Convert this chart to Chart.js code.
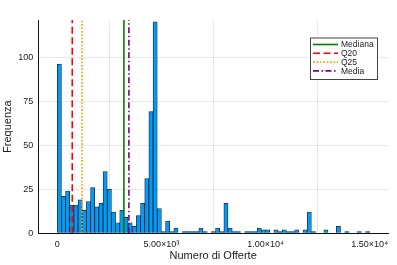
<!DOCTYPE html>
<html lang="it">
<head>
<meta charset="utf-8">
<title>Numero di Offerte</title>
<script src="https://cdn.jsdelivr.net/npm/chart.js@4.4.1/dist/chart.umd.min.js"></script>
<style>
  html, body { margin: 0; padding: 0; background: #fff; }
</style>
</head>
<body>
<canvas id="istogramma" width="397" height="265"></canvas>
<script>
// dati
const larghezzaBin = 200;
const frequenze = [
    96, 21, 24, 16, 16, 19, 13, 18, 26, 15,
    17, 35, 25, 12, 6, 13, 9, 6, 4, 10,
    17, 31, 69, 120, 14, 1, 7, 1, 3, 0,
    1, 1, 1, 1, 3, 1, 0, 1, 3, 1,
    17, 3, 1, 1, 0, 1, 1, 1, 3, 2,
    2, 0, 2, 1, 2, 1, 1, 2, 0, 2,
    12, 1, 0, 0, 2, 0, 0, 4, 0, 1,
    0, 0, 1, 0, 1
];
const lineeNomi = ['Mediana', 'Q20', 'Q25', 'Media'];
const lineeValori = [3200, 720, 1190, 3440];
const xTickValori = [0, 5000, 10000, 15000];
const xTickEtichette = ['0', '5.00×10³', '1.00×10⁴', '1.50×10⁴'];
const yTickValori = [0, 25, 50, 75, 100];

const stiliLinee = [
    { colore: '#008000', tratto: [] },
    { colore: '#ff0000', tratto: [7, 3.5] },
    { colore: '#ffa500', tratto: [1.8, 1.6] },
    { colore: '#800080', tratto: [6, 2.5, 1.5, 2.5] }
];

Chart.defaults.font.family = '"Liberation Sans", Arial, sans-serif';
Chart.defaults.color = '#222';

// legenda dentro l'area del grafico, con bordo
const legendaInterna = {
    id: 'legendaInterna',
    afterDraw(chart) {
        const ctx = chart.ctx;
        const linee = chart.data.datasets.filter(d => d.type === 'line');
        const x0 = 310, y0 = 37.5, w = 67, h = 41.5;
        ctx.save();
        ctx.fillStyle = '#fff';
        ctx.fillRect(x0, y0, w, h);
        ctx.strokeStyle = '#444';
        ctx.lineWidth = 1;
        ctx.strokeRect(x0 + 0.5, y0 + 0.5, w, h);
        ctx.font = '8.5px "Liberation Sans", Arial, sans-serif';
        ctx.textBaseline = 'middle';
        linee.forEach((d, i) => {
            const y = y0 + 7 + i * 8.8;
            ctx.beginPath();
            ctx.setLineDash(d.borderDash);
            ctx.strokeStyle = d.borderColor;
            ctx.lineWidth = d.borderWidth;
            ctx.moveTo(x0 + 3, y);
            ctx.lineTo(x0 + 28, y);
            ctx.stroke();
            ctx.setLineDash([]);
            ctx.fillStyle = '#222';
            ctx.fillText(d.label, x0 + 31, y + 0.5);
        });
        ctx.restore();
    }
};

document.addEventListener('DOMContentLoaded', function() {
    const yMax = 121;

    const barre = frequenze.map((f, i) => ({
        x: i * larghezzaBin + larghezzaBin / 2,
        y: f > 0 ? f : null
    }));

    const datasetLinee = lineeNomi.map((nome, i) => ({
        type: 'line',
        label: nome,
        data: [{ x: lineeValori[i], y: 0 }, { x: lineeValori[i], y: yMax }],
        borderColor: stiliLinee[i].colore,
        borderDash: stiliLinee[i].tratto,
        borderWidth: 1.6,
        pointRadius: 0,
        fill: false,
        order: 0
    }));

    new Chart(document.getElementById('istogramma'), {
        type: 'bar',
        data: {
            datasets: [
                {
                    type: 'bar',
                    label: 'Frequenza',
                    data: barre,
                    backgroundColor: '#009afa',
                    borderColor: '#222',
                    borderWidth: 0.8,
                    barPercentage: 1,
                    categoryPercentage: 1,
                    order: 1
                },
                ...datasetLinee
            ]
        },
        options: {
            responsive: false,
            animation: false,
            layout: { padding: { left: 0, top: 20, right: 9, bottom: 0 } },
            plugins: {
                legend: { display: false },
                tooltip: { enabled: false }
            },
            scales: {
                x: {
                    type: 'linear',
                    offset: false,
                    min: -910,
                    max: 15880,
                    afterBuildTicks: scale => {
                        scale.ticks = xTickValori.map(v => ({ value: v }));
                    },
                    afterFit: scale => { scale.height = 31.7; },
                    ticks: {
                        autoSkip: false,
                        maxRotation: 0,
                        padding: 6,
                        font: { size: 9 },
                        callback: (v, i) => xTickEtichette[i]
                    },
                    grid: { color: 'rgba(0,0,0,0.09)', lineWidth: 1, drawTicks: false },
                    border: { display: true, color: '#111', width: 1 },
                    title: {
                        display: true,
                        text: 'Numero di Offerte',
                        font: { size: 11 },
                        padding: { top: 0, bottom: 2 }
                    }
                },
                y: {
                    min: 0,
                    max: yMax,
                    afterBuildTicks: scale => {
                        scale.ticks = yTickValori.map(v => ({ value: v }));
                    },
                    afterFit: scale => { scale.width = 38.3; },
                    ticks: { padding: 5, font: { size: 9 } },
                    grid: { color: 'rgba(0,0,0,0.09)', lineWidth: 1, drawTicks: false },
                    border: { display: true, color: '#111', width: 1 },
                    title: {
                        display: true,
                        text: 'Frequenza',
                        font: { size: 11 },
                        padding: { top: 1, bottom: 0 }
                    }
                }
            }
        },
        plugins: [legendaInterna]
    });
});
</script>
</body>
</html>
